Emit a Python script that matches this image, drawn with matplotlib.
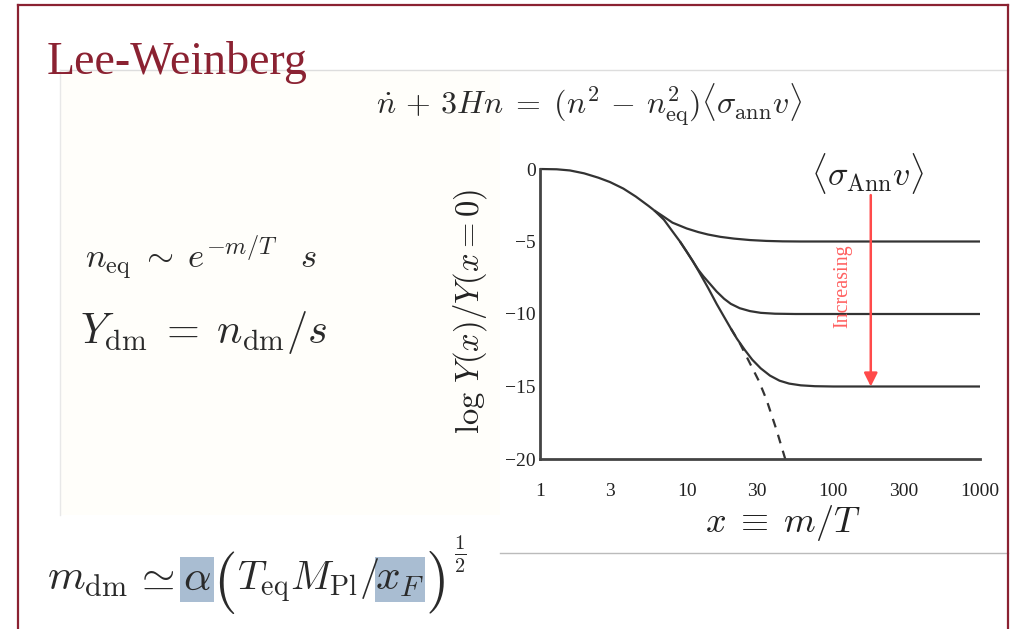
import matplotlib
matplotlib.use("Agg")
import matplotlib.pyplot as plt
from matplotlib.patches import Rectangle

plt.rcParams['mathtext.fontset'] = 'cm'
plt.rcParams['font.family'] = ['Liberation Serif', 'DejaVu Serif']

# log Y(x)/Y(x=0) against x = m/T
trunk_x = [1.0, 1.3, 1.6, 2.0, 2.5, 3.0, 3.7, 4.5, 5.5, 6.0]
trunk_y = [0.0, -0.02, -0.1, -0.3, -0.6, -0.9, -1.35, -1.9, -2.55, -2.85]

weak_x = [6.0, 7.0, 8.0, 10.0, 12.0, 14.0, 17.0, 21.0, 27.0, 35.0, 45.0, 60.0, 1000.0]
weak_y = [-2.85, -3.3, -3.7, -4.1, -4.35, -4.52, -4.68, -4.8, -4.9, -4.96, -4.99, -5.0, -5.0]

mid_x = [6.0, 7.0, 8.0, 9.0, 10.0, 11.0, 12.0, 13.0, 14.5, 16.0, 18.0, 20.0, 23.0, 27.0,
         32.0, 40.0, 55.0, 1000.0]
mid_y = [-2.85, -3.5, -4.3, -5.0, -5.7, -6.35, -6.95, -7.4, -7.95, -8.45, -8.95, -9.3,
         -9.6, -9.8, -9.92, -9.98, -10.0, -10.0]

strong_x = [9.0, 10.0, 11.0, 12.0, 14.0, 16.0, 18.0, 20.0, 22.0, 25.0, 28.0, 32.0, 37.0,
            43.0, 50.0, 60.0, 75.0, 100.0, 1000.0]
strong_y = [-5.0, -5.7, -6.35, -7.0, -8.2, -9.3, -10.2, -11.0, -11.7, -12.5, -13.15,
            -13.75, -14.25, -14.6, -14.8, -14.92, -14.98, -15.0, -15.0]

eq_x = [20.0, 23.0, 27.0, 31.0, 35.0, 41.0, 47.0]
eq_y = [-11.0, -12.0, -13.4, -14.6, -15.9, -18.0, -20.0]

xticks = [1, 3, 10, 30, 100, 300, 1000]
xtick_labels = ['1', '3', '10', '30', '100', '300', '1000']
yticks = [0, -5, -10, -15, -20]
ytick_labels = ['0', '\u22125', '\u221210', '\u221215', '\u221220']

maroon = '#8b2232'
ink = '#2a2a2a'
hilite = '#a9bdd2'
W, H = 1020, 629

fig = plt.figure(figsize=(W / 100, H / 100), dpi=100)
fig.patch.set_facecolor('white')

# slide layer in pixel units
ov = fig.add_axes([0, 0, 1, 1], zorder=0)
ov.set_xlim(0, W)
ov.set_ylim(H, 0)
ov.axis('off')

ov.add_patch(Rectangle((60, 70), 440, 445, facecolor='#fffefa', edgecolor='none'))
ov.plot([60, 1008], [70, 70], color='#dddddd', lw=1)
ov.plot([60, 60], [70, 515], color='#e8e8e8', lw=1)
ov.plot([500, 1008], [553, 553], color='#bbbbbb', lw=1)

ov.plot([18, 1008], [5, 5], color=maroon, lw=1.6)
ov.plot([18, 18], [5, H], color=maroon, lw=1.6)
ov.plot([1008, 1008], [5, H], color=maroon, lw=1.6)

ov.text(47, 62, 'Lee-Weinberg', color=maroon, fontsize=33,
        family='Liberation Serif', ha='left', va='center')

ov.text(589, 105,
        r'$\dot{n} \,+\, 3Hn \;=\; (n^2 \,-\, n_{\rm eq}^2)\langle\sigma_{\rm ann} v\rangle$',
        fontsize=23, color=ink, ha='center', va='center')
ov.text(85, 258, r'$n_{\rm eq} \;\sim\; e^{-m/T}\;\;\; s$', fontsize=25, color=ink,
        ha='left', va='center')
ov.text(80, 333, r'$Y_{\rm dm} \;=\; n_{\rm dm}/s$', fontsize=30.5, color=ink,
        ha='left', va='center')

# dark matter mass estimate, set piece by piece so the tall brackets fit
ov.add_patch(Rectangle((180, 557), 34, 45, facecolor=hilite, edgecolor='none'))
ov.add_patch(Rectangle((375, 557), 50, 45, facecolor=hilite, edgecolor='none'))
base = 590
ov.text(47, base, r'$m_{\rm dm}$', fontsize=31, color=ink, ha='left', va='baseline')
ov.text(154, base, r'$\simeq$', fontsize=31, color=ink, ha='center', va='baseline')
ov.text(197, base, r'$\alpha$', fontsize=31, color=ink, ha='center', va='baseline')
ov.text(213, 582, r'$($', fontsize=44, color=ink, ha='left', va='center')
ov.text(237, base, r'$T_{\rm eq}M_{\rm Pl}/$', fontsize=29, color=ink, ha='left', va='baseline')
ov.text(400, base, r'$x_F$', fontsize=31, color=ink, ha='center', va='baseline')
ov.text(425, 582, r'$)$', fontsize=44, color=ink, ha='left', va='center')
ov.text(460, 554, r'$\frac{1}{2}$', fontsize=21, color=ink, ha='center', va='center')

# relic abundance chart
ax = fig.add_axes([540 / W, 1 - 459 / H, 440 / W, 290 / H], zorder=2)
ax.set_facecolor('none')
ax.set_xscale('log')
ax.set_xlim(1, 1000)
ax.set_ylim(-20, 0)

line_kw = dict(color='#333333', lw=1.6, clip_on=False, solid_capstyle='butt')
ax.plot(trunk_x, trunk_y, **line_kw)
ax.plot(weak_x, weak_y, **line_kw)
ax.plot(mid_x, mid_y, **line_kw)
ax.plot(strong_x, strong_y, **line_kw)
ax.plot(eq_x, eq_y, color='#333333', lw=1.6, ls=(0, (4, 3.5)))

for side in ['top', 'right']:
    ax.spines[side].set_visible(False)
for side in ['left', 'bottom']:
    ax.spines[side].set_color('#444444')
    ax.spines[side].set_linewidth(2.0)

ax.set_xticks(xticks)
ax.set_xticklabels(xtick_labels)
ax.xaxis.set_minor_locator(matplotlib.ticker.NullLocator())
ax.set_yticks(yticks)
ax.set_yticklabels(ytick_labels)
ax.tick_params(axis='both', length=0, labelsize=14, colors='#222222')
ax.tick_params(axis='x', pad=17)
ax.tick_params(axis='y', pad=3)

ax.set_ylabel(r'$\log\, Y(x)/Y(x=0)$', fontsize=23.5, color='#222222', va='center')
ax.yaxis.set_label_coords(-0.159, 0.51)
ax.set_xlabel(r'$x \;\equiv\; m/T$', fontsize=26, color='#222222', va='center')
ax.xaxis.set_label_coords(0.552, -0.22)

ax.annotate('', xy=(180, -15.0), xytext=(180, -1.8),
            arrowprops=dict(arrowstyle='-|>', color='#ff4a4a', lw=1.8,
                            mutation_scale=20, shrinkA=0, shrinkB=0))
ax.text(116, -8.1, 'Increasing', rotation=90, color='#ff6060', fontsize=14.5,
        ha='center', va='center')
ax.text(172, -0.3, r'$\langle\sigma_{\rm Ann} v\rangle$', fontsize=24.5,
        color='#222222', ha='center', va='center', clip_on=False)

fig.savefig('out.png', dpi=100)
